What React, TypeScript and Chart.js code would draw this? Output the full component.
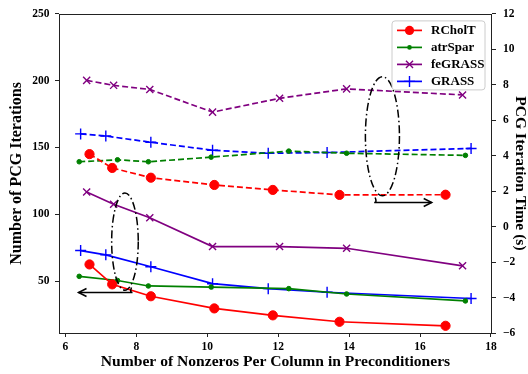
import React, { useEffect, useRef } from 'react';
import { Chart, registerables } from 'chart.js';

Chart.register(...registerables);

// ---- data ----
const xTicks = [6, 8, 10, 12, 14, 16, 18];
const iterTicks = [50, 100, 150, 200, 250];
const timeTicks = [-6, -4, -2, 0, 2, 4, 6, 8, 10, 12];

const seriesNames = ['RCholT', 'atrSpar', 'feGRASS', 'GRASS'];
const seriesColors = ['#ff0000', '#008000', '#800080', '#0000ff'];

const rcholtNnz = [6.68, 7.32, 8.41, 10.2, 11.85, 13.73, 16.72];
const rcholtIter = [62.5, 47.6, 38.7, 29.6, 24.4, 19.6, 16.6];
const rcholtTime = [4.09, 3.31, 2.76, 2.35, 2.07, 1.79, 1.8];

const atrSparNnz = [6.39, 7.47, 8.34, 10.11, 12.3, 13.93, 17.28];
const atrSparIter = [53.6, 50.5, 46.4, 45.6, 44.4, 40.4, 35.2];
const atrSparTime = [3.66, 3.77, 3.66, 3.92, 4.26, 4.14, 4.02];

const feGrassNnz = [6.6, 7.36, 8.38, 10.15, 12.04, 13.93, 17.2];
const feGrassIter = [116.7, 107.6, 97.4, 75.9, 75.9, 74.6, 61.5];
const feGrassTime = [8.25, 7.97, 7.74, 6.46, 7.24, 7.77, 7.43];

const grassNnz = [6.43, 7.14, 8.41, 10.15, 11.72, 13.38, 17.44];
const grassIter = [72.9, 69.7, 60.8, 48.1, 44.4, 41.7, 37.0];
const grassTime = [5.23, 5.11, 4.76, 4.31, 4.14, 4.18, 4.41];

// annotation anchors in data units
const leftEllipse = { x: 7.68, y: 79.6, rx: 0.375, ry: 36.4 }; // left axis
const rightEllipse = { x: 14.94, y: 5.1, rx: 0.48, ry: 3.36 }; // right axis
const leftArrow = { from: 7.78, to: 6.37, y: 41.5 }; // left axis
const rightArrow = { from: 14.82, to: 16.33, y: 1.36 }; // right axis

const FONT = "'Liberation Serif', 'Times New Roman', Times, serif";
const LW = 1.7;

const pts = (xs: number[], ys: number[]) => xs.map((x, i) => ({ x, y: ys[i] }));
const minus = (v: any) => String(v).replace('-', '\u2212');

function markerStyle(i: number) {
  if (i === 0) return { pointStyle: 'circle', pointRadius: 4.6, pointBorderWidth: 1 };
  if (i === 1) return { pointStyle: 'circle', pointRadius: 2.3, pointBorderWidth: 1 };
  if (i === 2) return { pointStyle: 'crossRot', pointRadius: 5, pointBorderWidth: 1.4 };
  return { pointStyle: 'cross', pointRadius: 5.5, pointBorderWidth: 1.4 };
}

function drawMarker(ctx: CanvasRenderingContext2D, i: number, x: number, y: number) {
  const c = seriesColors[i];
  ctx.save();
  ctx.fillStyle = c;
  ctx.strokeStyle = c;
  ctx.lineWidth = 1.4;
  ctx.setLineDash([]);
  if (i === 0 || i === 1) {
    ctx.beginPath();
    ctx.arc(x, y, i === 0 ? 4.6 : 2.3, 0, Math.PI * 2);
    ctx.fill();
  } else if (i === 2) {
    const r = 5 * Math.SQRT1_2;
    ctx.beginPath();
    ctx.moveTo(x - r, y - r); ctx.lineTo(x + r, y + r);
    ctx.moveTo(x - r, y + r); ctx.lineTo(x + r, y - r);
    ctx.stroke();
  } else {
    const r = 5.5;
    ctx.beginPath();
    ctx.moveTo(x - r, y); ctx.lineTo(x + r, y);
    ctx.moveTo(x, y - r); ctx.lineTo(x, y + r);
    ctx.stroke();
  }
  ctx.restore();
}

const decorPlugin = {
  id: 'decor',
  afterDatasetsDraw(chart: any) {
    const ctx: CanvasRenderingContext2D = chart.ctx;
    const sx = chart.scales.x, sy = chart.scales.y, sy1 = chart.scales.y1;
    ctx.save();
    ctx.strokeStyle = '#000';
    ctx.lineWidth = 1.5;
    ctx.setLineDash([8, 3, 1.5, 3]);
    const ell = (e: any, ys: any) => {
      const cx = sx.getPixelForValue(e.x);
      const cy = ys.getPixelForValue(e.y);
      const rx = Math.abs(sx.getPixelForValue(e.x + e.rx) - cx);
      const ry = Math.abs(ys.getPixelForValue(e.y + e.ry) - cy);
      ctx.beginPath();
      ctx.ellipse(cx, cy, rx, ry, 0, 0, Math.PI * 2);
      ctx.stroke();
    };
    ell(leftEllipse, sy);
    ell(rightEllipse, sy1);
    ctx.setLineDash([]);
    const arrow = (a: any, ys: any) => {
      const x0 = sx.getPixelForValue(a.from);
      const x1 = sx.getPixelForValue(a.to);
      const y = ys.getPixelForValue(a.y);
      const dir = Math.sign(x1 - x0);
      ctx.beginPath();
      ctx.moveTo(x0 + dir * -3, y - 5);
      ctx.quadraticCurveTo(x0 - dir * 1, y, x0 - dir * 4, y);
      ctx.lineTo(x1, y);
      ctx.stroke();
      ctx.beginPath();
      ctx.moveTo(x1 - dir * 8, y - 4);
      ctx.lineTo(x1, y);
      ctx.lineTo(x1 - dir * 8, y + 4);
      ctx.stroke();
    };
    arrow(leftArrow, sy);
    arrow(rightArrow, sy1);
    ctx.restore();
  },
  afterDraw(chart: any) {
    const ctx: CanvasRenderingContext2D = chart.ctx;
    const a = chart.chartArea;
    ctx.save();
    ctx.strokeStyle = '#222';
    ctx.lineWidth = 1;
    ctx.setLineDash([]);
    ctx.strokeRect(Math.round(a.left) + 0.5, Math.round(a.top) + 0.5, Math.round(a.right - a.left) - 1, Math.round(a.bottom - a.top));
    const lx = a.right - 100, ly = a.top + 7, lw = 93, lh = 69;
    ctx.beginPath();
    const r = 3;
    ctx.moveTo(lx + r, ly);
    ctx.arcTo(lx + lw, ly, lx + lw, ly + lh, r);
    ctx.arcTo(lx + lw, ly + lh, lx, ly + lh, r);
    ctx.arcTo(lx, ly + lh, lx, ly, r);
    ctx.arcTo(lx, ly, lx + lw, ly, r);
    ctx.closePath();
    ctx.fillStyle = 'rgba(255,255,255,0.85)';
    ctx.fill();
    ctx.strokeStyle = '#cccccc';
    ctx.stroke();
    ctx.font = `bold 13px ${FONT}`;
    ctx.textBaseline = 'middle';
    ctx.textAlign = 'left';
    seriesNames.forEach((name, i) => {
      const y = ly + 9.5 + i * 17;
      ctx.strokeStyle = seriesColors[i];
      ctx.lineWidth = LW;
      ctx.beginPath();
      ctx.moveTo(lx + 5, y);
      ctx.lineTo(lx + 30, y);
      ctx.stroke();
      drawMarker(ctx, i, lx + 17.5, y);
      ctx.fillStyle = '#000';
      ctx.fillText(name, lx + 39, y + 0.5);
    });
    ctx.restore();
  },
};

export default function App() {
  const ref = useRef<HTMLCanvasElement | null>(null);
  useEffect(() => {
    if (!ref.current) return;
    const nnz = [rcholtNnz, atrSparNnz, feGrassNnz, grassNnz];
    const iters = [rcholtIter, atrSparIter, feGrassIter, grassIter];
    const times = [rcholtTime, atrSparTime, feGrassTime, grassTime];
    const datasets: any[] = [];
    seriesNames.forEach((name, i) => {
      datasets.push({
        label: name,
        data: pts(nnz[i], iters[i]),
        yAxisID: 'y',
        borderColor: seriesColors[i],
        backgroundColor: seriesColors[i],
        pointBackgroundColor: seriesColors[i],
        pointBorderColor: seriesColors[i],
        borderWidth: LW,
        tension: 0,
        ...markerStyle(i),
      });
    });
    seriesNames.forEach((name, i) => {
      datasets.push({
        label: name + ' time',
        data: pts(nnz[i], times[i]),
        yAxisID: 'y1',
        borderColor: seriesColors[i],
        backgroundColor: seriesColors[i],
        pointBackgroundColor: seriesColors[i],
        pointBorderColor: seriesColors[i],
        borderWidth: LW,
        borderDash: [6, 3],
        tension: 0,
        ...markerStyle(i),
      });
    });
    const tickFont = { family: FONT, size: 11.5, weight: 'bold' as const };
    const chart = new Chart(ref.current, {
      type: 'line',
      data: { datasets },
      plugins: [decorPlugin],
      options: {
        animation: false,
        responsive: false,
        devicePixelRatio: 1,
        layout: { padding: { top: 11, left: 0, right: 0, bottom: 0 } },
        plugins: { legend: { display: false }, tooltip: { enabled: false } },
        scales: {
          x: {
            type: 'linear',
            min: 5.82,
            max: 18.03,
            afterBuildTicks: (s: any) => { s.ticks = xTicks.map((v) => ({ value: v })); },
            afterFit: (s: any) => { s.height = 41; },
            grid: { drawOnChartArea: false, drawTicks: true, tickLength: 4, color: '#222', lineWidth: 1 },
            border: { display: false },
            ticks: { font: tickFont, color: '#000', padding: 3, maxRotation: 0, autoSkip: false, callback: minus },
            title: {
              display: true,
              text: 'Number of Nonzeros Per Column in Preconditioners',
              font: { family: FONT, size: 15.6, weight: 'bold', lineHeight: 1.2 },
              color: '#000',
              padding: { top: 0, bottom: 2.5 },
            },
          },
          y: {
            type: 'linear',
            position: 'left',
            min: 11.2,
            max: 250,
            afterBuildTicks: (s: any) => { s.ticks = iterTicks.map((v) => ({ value: v })); },
            afterFit: (s: any) => { s.width = 59; },
            grid: { drawOnChartArea: false, drawTicks: true, tickLength: 4, color: '#222', lineWidth: 1 },
            border: { display: false },
            ticks: { font: tickFont, color: '#000', padding: 5.5, autoSkip: false, callback: minus },
            title: {
              display: true,
              text: 'Number of PCG Iterations',
              font: { family: FONT, size: 16, weight: 'bold', lineHeight: 1.2 },
              color: '#000',
              padding: { top: 7.4, bottom: 0 },
            },
          },
          y1: {
            type: 'linear',
            position: 'right',
            min: -6,
            max: 12,
            afterBuildTicks: (s: any) => { s.ticks = timeTicks.map((v) => ({ value: v })); },
            afterFit: (s: any) => { s.width = 36; },
            grid: { drawOnChartArea: false, drawTicks: true, tickLength: 4, color: '#222', lineWidth: 1 },
            border: { display: false },
            ticks: { font: tickFont, color: '#000', padding: 7, autoSkip: false, callback: minus },
            title: {
              display: true,
              text: 'PCG Iteration Time (s)',
              font: { family: FONT, size: 15.6, weight: 'bold', lineHeight: 1 },
              color: '#000',
              padding: { top: 0, bottom: 0 },
            },
          },
        },
      } as any,
    });
    return () => chart.destroy();
  }, []);
  return (
    <div style={{ position: 'absolute', left: 0, top: 0, width: 528, height: 374, background: '#fff' }}>
      <canvas ref={ref} width={528} height={374} style={{ display: 'block' }} />
    </div>
  );
}
